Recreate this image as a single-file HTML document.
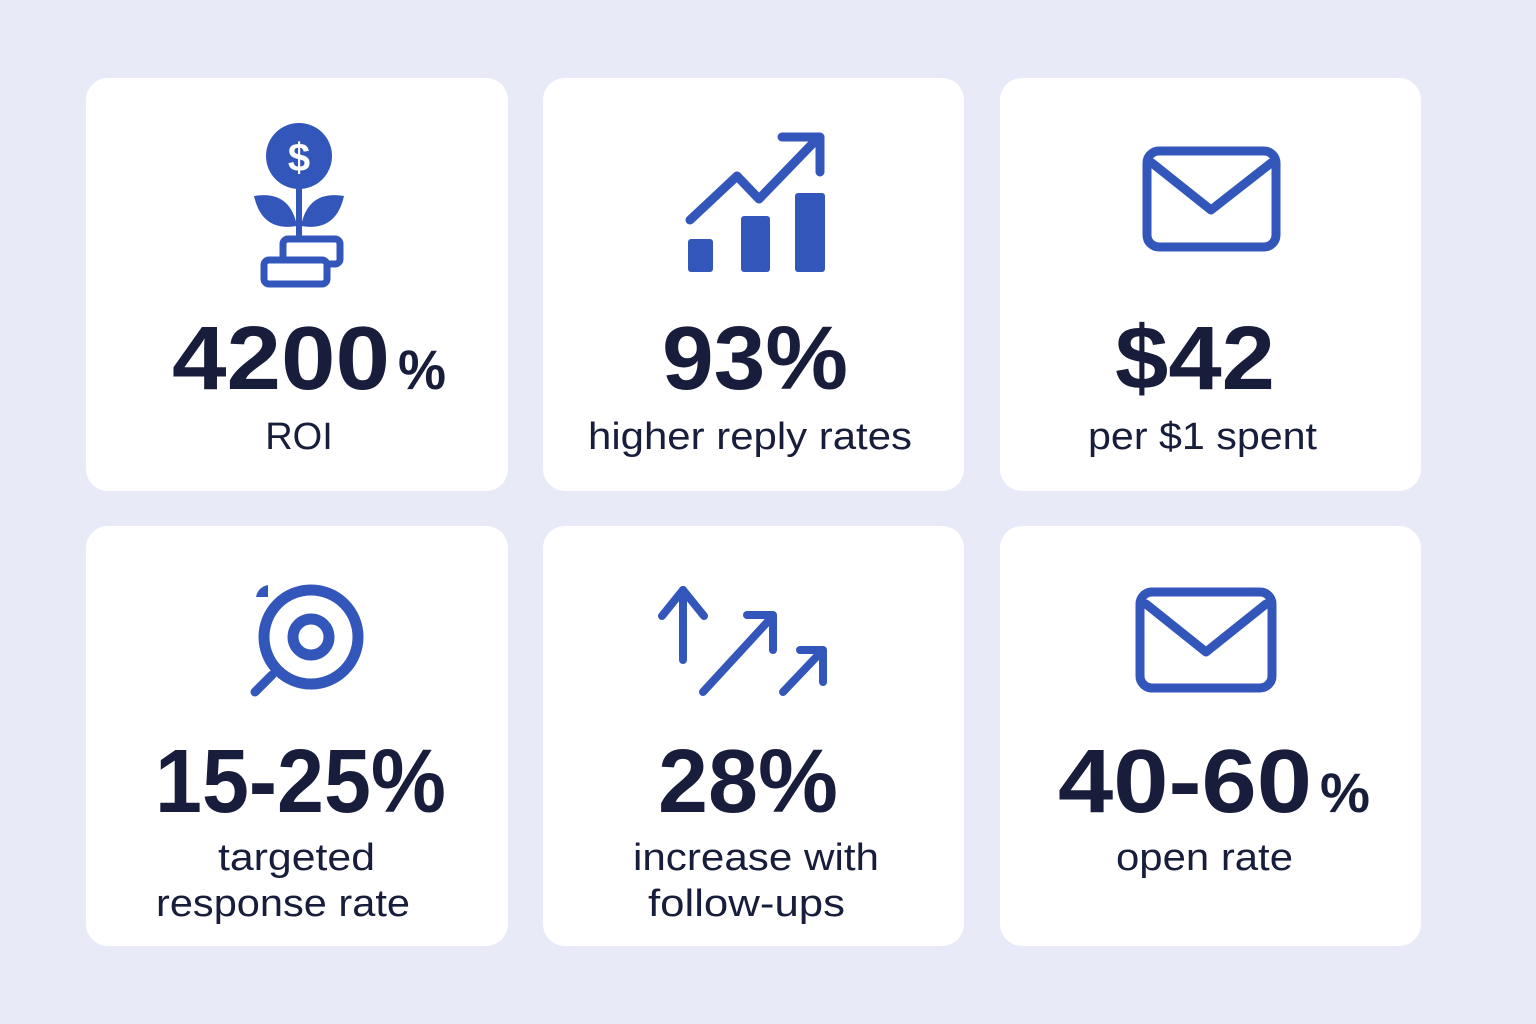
<!DOCTYPE html>
<html><head><meta charset="utf-8"><style>
html,body{margin:0;padding:0;background:#e8eaf8;}
svg{display:block}
.n{font-family:"Liberation Sans",sans-serif;font-weight:bold;fill:#171d3a;}
.l{font-family:"Liberation Sans",sans-serif;fill:#171d3a;font-size:38px;}
</style></head><body>
<svg width="1536" height="1024" viewBox="0 0 1536 1024">
<rect width="1536" height="1024" fill="#e8eaf8"/>
<g fill="#fff">
<rect x="86" y="78" width="422" height="413" rx="22"/>
<rect x="543" y="78" width="421" height="413" rx="22"/>
<rect x="1000" y="78" width="421" height="413" rx="22"/>
<rect x="86" y="526" width="422" height="420" rx="22"/>
<rect x="543" y="526" width="421" height="420" rx="22"/>
<rect x="1000" y="526" width="421" height="420" rx="22"/>
</g>
<g fill="#3356bb" stroke="#3356bb" stroke-linecap="round" stroke-linejoin="round">
<circle cx="299" cy="156" r="33" stroke="none"/>
<text x="299" y="171" text-anchor="middle" font-family="Liberation Sans" font-weight="bold" font-size="40" fill="#fff" stroke="none">$</text>
<line x1="299" y1="186" x2="299" y2="238" stroke-width="6"/>
<path d="M254 196 Q290 190 297 226 Q262 232 254 196Z" stroke="none"/>
<path d="M344 196 Q308 190 301 226 Q336 232 344 196Z" stroke="none"/>
<rect x="283" y="239" width="57" height="25" rx="5" fill="none" stroke-width="7"/>
<rect x="264" y="260" width="63" height="24" rx="5" fill="#fff" stroke-width="7"/>
<polyline points="690,220 737,176 759,199 818,138" fill="none" stroke-width="9"/>
<polyline points="782,137 820,137 820,172" fill="none" stroke-width="9"/>
<rect x="688" y="239" width="25" height="33" rx="3" stroke="none"/>
<rect x="741" y="216" width="29" height="56" rx="3" stroke="none"/>
<rect x="795" y="193" width="30" height="79" rx="3" stroke="none"/>
<rect x="1147" y="151" width="129" height="96" rx="12" fill="none" stroke-width="9"/>
<polyline points="1152,163 1211,210 1271,163" fill="none" stroke-width="9"/>
<circle cx="311" cy="637" r="47" fill="none" stroke-width="11"/>
<circle cx="311" cy="637" r="18" fill="none" stroke-width="11"/>
<line x1="255" y1="692" x2="272" y2="675" stroke-width="9"/>
<path d="M256 597 Q258 587 268 585 L268 597Z" stroke="none"/>
<line x1="683" y1="590" x2="683" y2="660" stroke-width="8"/>
<polyline points="662,616 683,590 704,616" fill="none" stroke-width="8"/>
<line x1="703" y1="692" x2="772" y2="617" stroke-width="8"/>
<polyline points="747,615 773,615 773,650" fill="none" stroke-width="8"/>
<line x1="783" y1="692" x2="822" y2="651" stroke-width="8"/>
<polyline points="800,650 823,650 823,682" fill="none" stroke-width="8"/>
<rect x="1140" y="592" width="132" height="96" rx="12" fill="none" stroke-width="9"/>
<polyline points="1146,604 1206,652 1266,604" fill="none" stroke-width="9"/>
</g>
<text class="n" x="172" y="389" font-size="90" textLength="218" lengthAdjust="spacingAndGlyphs">4200</text>
<text class="n" x="398" y="389" font-size="56" textLength="48" lengthAdjust="spacingAndGlyphs">%</text>
<text class="n" x="662" y="389" font-size="90" textLength="186" lengthAdjust="spacingAndGlyphs">93%</text>
<text class="n" x="1115" y="389" font-size="90" textLength="160" lengthAdjust="spacingAndGlyphs">$42</text>
<text class="n" x="155" y="812" font-size="90" textLength="291" lengthAdjust="spacingAndGlyphs">15-25%</text>
<text class="n" x="658" y="812" font-size="90" textLength="180" lengthAdjust="spacingAndGlyphs">28%</text>
<text class="n" x="1058" y="812" font-size="90" textLength="254" lengthAdjust="spacingAndGlyphs">40-60</text>
<text class="n" x="1320" y="812" font-size="56" textLength="50" lengthAdjust="spacingAndGlyphs">%</text>
<text class="l" x="299" y="449" text-anchor="middle">ROI</text>
<text class="l" x="588" y="449" textLength="324" lengthAdjust="spacingAndGlyphs">higher reply rates</text>
<text class="l" x="1088" y="449" textLength="229" lengthAdjust="spacingAndGlyphs">per $1 spent</text>
<text class="l" x="218" y="870" textLength="157" lengthAdjust="spacingAndGlyphs">targeted</text>
<text class="l" x="156" y="916" textLength="254" lengthAdjust="spacingAndGlyphs">response rate</text>
<text class="l" x="633" y="870" textLength="246" lengthAdjust="spacingAndGlyphs">increase with</text>
<text class="l" x="648" y="916" textLength="197" lengthAdjust="spacingAndGlyphs">follow-ups</text>
<text class="l" x="1116" y="870" textLength="177" lengthAdjust="spacingAndGlyphs">open rate</text>
</svg>
</body></html>
